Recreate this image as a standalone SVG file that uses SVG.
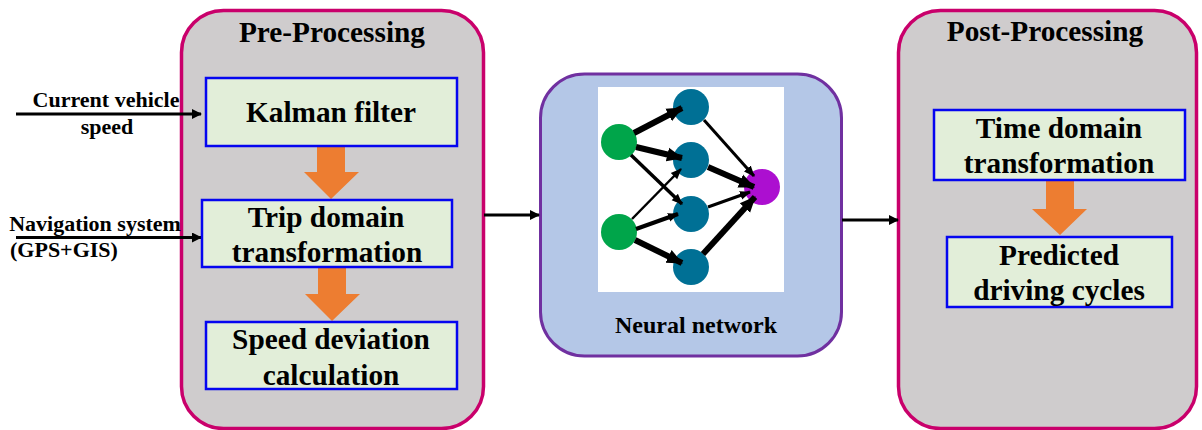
<svg xmlns="http://www.w3.org/2000/svg" width="1202" height="430" viewBox="0 0 1202 430">
<style>
text{font-family:"Liberation Serif","Times New Roman",serif;font-weight:bold;fill:#000;text-anchor:middle}
.panel{fill:#cfcccd;stroke:#c9006b;stroke-width:3.500}
.box{fill:#e2eed9;stroke:#0505f0;stroke-width:2.500}
.t{font-size:29.300px}
.s{font-size:22px}
.ln{stroke:#000;stroke-width:3;fill:none}
.up{fill:#ed7d31}
.g{fill:#00a54a}
.b{fill:#007095}
.nn{stroke:#000;fill:none}
</style>
<defs>
<marker id="a" markerUnits="userSpaceOnUse" markerWidth="10" markerHeight="10" refX="9" refY="5" orient="auto"><path d="M0 0L10 5L0 10z" fill="#000"/></marker>
<marker id="n" markerUnits="userSpaceOnUse" markerWidth="16" markerHeight="16" refX="15" refY="8" orient="auto"><path d="M0 1L16 8L0 15z" fill="#000"/></marker>
<marker id="m" markerUnits="userSpaceOnUse" markerWidth="11" markerHeight="11" refX="10" refY="5.500" orient="auto"><path d="M0 1L11 5.500L0 10z" fill="#000"/></marker>
</defs>
<g id="pre"><rect class="panel" x="181.500" y="10.500" width="302" height="418" rx="42"/><text class="t" x="332" y="42">Pre-Processing</text></g>
<g id="post"><rect class="panel" x="898.500" y="10.500" width="298" height="418" rx="42"/><text class="t" x="1045" y="41">Post-Processing</text></g>
<g id="nnpanel"><rect x="540.500" y="74" width="301" height="282" rx="44" fill="#b4c7e7" stroke="#7030a0" stroke-width="3"/><rect x="598" y="87" width="186" height="205" fill="#fff"/><text x="696" y="333" font-size="24">Neural network</text></g>
<g id="connectors">
<path class="ln" d="M16 114H201" marker-end="url(#a)"/>
<path class="ln" d="M16 237.500H201" marker-end="url(#a)"/>
<path class="ln" d="M484 215H539" marker-end="url(#a)"/>
<path class="ln" d="M842 220H898" marker-end="url(#a)"/>
<path class="up" d="M317 145H345V172H359L331 199L304 172H317z"/>
<path class="up" d="M318 268H346V294H360L332 321L305 294H318z"/>
<path class="up" d="M1046 181H1074V209H1087L1060 235L1032 209H1046z"/>
</g>
<g id="nncircles">
<circle class="g" cx="619" cy="142" r="18"/><circle class="g" cx="619" cy="232" r="18"/>
<circle class="b" cx="691" cy="107" r="18"/><circle class="b" cx="691" cy="160" r="18"/><circle class="b" cx="691" cy="214" r="18"/><circle class="b" cx="691" cy="267" r="18"/>
<circle cx="762" cy="187" r="18" fill="#ac0fd0"/>
</g>
<g id="nnedges" class="nn">
<path stroke-width="6" d="M634 133L682 108" marker-end="url(#n)"/>
<path stroke-width="6" d="M636 147L682 158" marker-end="url(#n)"/>
<path stroke-width="3.500" d="M631 155L682 204" marker-end="url(#m)"/>
<path stroke-width="2.500" d="M632 219L681 169" marker-end="url(#m)"/>
<path stroke-width="4" d="M636 229L678 214" marker-end="url(#m)"/>
<path stroke-width="6" d="M635 240L682 263" marker-end="url(#n)"/>
<path stroke-width="3" d="M704 120L754 176" marker-end="url(#m)"/>
<path stroke-width="6" d="M708 167L754 187" marker-end="url(#n)"/>
<path stroke-width="3" d="M708 207L750 192" marker-end="url(#m)"/>
<path stroke-width="6" d="M703 254L755 197" marker-end="url(#n)"/>
</g>
<g id="kalman"><rect class="box" x="206" y="78" width="251" height="68"/><text class="t" x="331" y="122">Kalman filter</text></g>
<g id="trip"><rect class="box" x="202" y="200" width="250" height="67"/><text class="t" x="326" y="227">Trip domain</text><text class="t" x="327" y="262">transformation</text></g>
<g id="speed"><rect class="box" x="206" y="322" width="251" height="67"/><text class="t" x="331" y="349">Speed deviation</text><text class="t" x="331" y="385">calculation</text></g>
<g id="time"><rect class="box" x="934" y="110" width="251" height="70"/><text class="t" x="1059" y="138">Time domain</text><text class="t" x="1059" y="173">transformation</text></g>
<g id="pred"><rect class="box" x="947" y="237" width="225" height="70"/><text class="t" x="1059" y="265">Predicted</text><text class="t" x="1059" y="300">driving cycles</text></g>
<g id="inputs">
<text class="s" x="106" y="107">Current vehicle</text><text class="s" x="107" y="134">speed</text>
<text class="s" x="95" y="231">Navigation system</text><text class="s" x="10" y="257" style="text-anchor:start">(GPS+GIS)</text>
</g>
</svg>
